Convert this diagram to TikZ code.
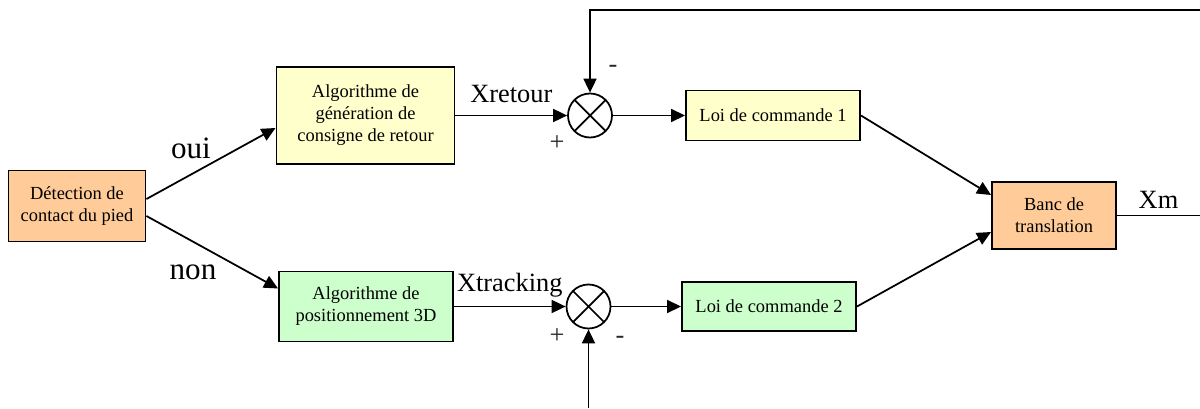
\documentclass[tikz,border=0pt]{standalone}
\usepackage{fontspec}
\setmainfont{Liberation Serif}
\usepackage{xcolor}
\usetikzlibrary{arrows.meta}
\definecolor{peach}{HTML}{FFCC99}
\definecolor{paleyellow}{HTML}{FFFFCC}
\definecolor{palegreen}{HTML}{CCFFCC}
\tikzset{
 block/.style={draw, line width=1.1pt, align=center, inner sep=2pt,
  font=\fontsize{10.5}{12.5}\selectfont},
 sumnode/.style={circle, draw, line width=1pt, minimum size=0.88cm, inner sep=0pt,
  path picture={\draw[line width=1pt]
   (path picture bounding box.north west) -- (path picture bounding box.south east)
   (path picture bounding box.north east) -- (path picture bounding box.south west);}},
 lbl/.style={font=\fontsize{15}{18}\selectfont},
 biglbl/.style={font=\fontsize{17.7}{21}\selectfont},
 sgn/.style={font=\fontsize{15}{18}\selectfont, text=black!85},
 link/.style={line width=1pt, -{Triangle[length=0.28cm,width=0.26cm]}},
 wire/.style={line width=1pt},
}
\begin{document}
\begin{tikzpicture}
\useasboundingbox (0,0) rectangle (24,8.16);
% nodes
 \node[block, fill=peach, minimum width=2.74cm, minimum height=1.42cm] (detect) at (1.54,4.04) {Détection de\\contact du pied};
 \node[block, fill=paleyellow, minimum width=3.56cm, minimum height=1.94cm] (algoR) at (7.31,5.85) {Algorithme de\\génération de\\consigne de retour};
 \node[block, fill=palegreen, minimum width=3.48cm, minimum height=1.40cm] (algoP) at (7.32,2.03) {Algorithme de\\positionnement 3D};
 \node[sumnode] (sum1) at (11.8,5.85) {};
 \node[sumnode] (sum2) at (11.77,2.03) {};
 \node[block, fill=paleyellow, minimum width=3.48cm, minimum height=1.0cm] (loi1) at (15.46,5.85) {Loi de commande 1};
 \node[block, fill=palegreen, minimum width=3.48cm, minimum height=0.98cm] (loi2) at (15.38,2.03) {Loi de commande 2};
 \node[block, fill=peach, minimum width=2.48cm, minimum height=1.34cm] (banc) at (21.08,3.85) {Banc de\\translation};
 \coordinate (fbin1) at (24,7.96);
 \coordinate (fbin2) at (11.77,0);
 \coordinate (xout) at (24,3.85);
% signs
 \node[sgn] at ([shift={(-0.66,-0.55)}]sum1) {+};
 \node[sgn] at ([shift={(0.46,0.94)}]sum1) {-};
 \node[sgn] at ([shift={(-0.63,-0.6)}]sum2) {+};
 \node[sgn] at ([shift={(0.63,-0.67)}]sum2) {-};
% edges
 \draw[link] ([yshift=0.14cm]detect.east) -- node[biglbl, xshift=-0.40cm, yshift=0.31cm] {oui} ([yshift=-0.25cm]algoR.west);
 \draw[link] ([yshift=-0.2cm]detect.east) -- node[biglbl, xshift=-0.385cm, yshift=-0.395cm] {non} ([yshift=0.36cm]algoP.west);
 \draw[link] (algoR) -- node[lbl, above=0.13cm] {Xretour} (sum1);
 \draw[link] (algoP) -- node[lbl, above=0.05cm] {Xtracking} (sum2);
 \draw[link] (sum1) -- (loi1);
 \draw[link] (sum2) -- (loi2);
 \draw[link] (loi1.east) -- ([yshift=0.41cm]banc.west);
 \draw[link] (loi2.east) -- ([yshift=-0.33cm]banc.west);
 \draw[wire] (banc.east) -- node[lbl, above] {Xm} (xout);
% feedback
 \draw[link] (fbin1) -| (sum1.north);
 \draw[link] (fbin2) -- (sum2.south);
\end{tikzpicture}
\end{document}
